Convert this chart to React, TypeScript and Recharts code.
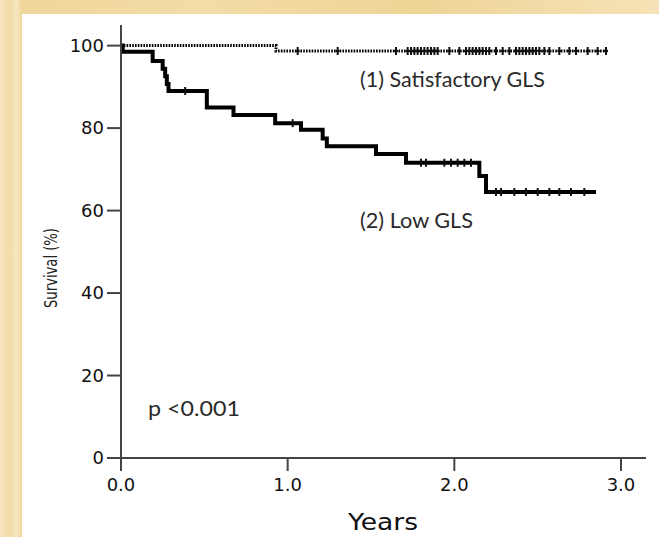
import { ComposedChart, Line, Scatter, XAxis, YAxis } from "recharts"

// Kaplan-Meier steps
const satTimes = [0, 0.93, 2.92]
const satSurvival = [100, 98.7, 98.7]
const satCensored = [
  1.06, 1.3, 1.65, 1.72, 1.74, 1.76, 1.78, 1.8, 1.82, 1.84, 1.86, 1.88, 1.9, 1.97, 2.03, 2.07, 2.09,
  2.11, 2.13, 2.15, 2.17, 2.19, 2.21, 2.25, 2.29, 2.33, 2.37, 2.39, 2.41, 2.43, 2.45, 2.47, 2.49,
  2.51, 2.54, 2.57, 2.63, 2.69, 2.73, 2.8, 2.86, 2.91,
]

const lowTimes = [
  0, 0.01, 0.19, 0.25, 0.265, 0.275, 0.285, 0.515, 0.675, 0.925, 1.08, 1.21, 1.235, 1.53, 1.71,
  2.15, 2.19, 2.85,
]
const lowSurvival = [
  100, 98.5, 96.3, 94.4, 92.6, 90.7, 89.0, 85.0, 83.2, 81.2, 79.6, 77.5, 75.6, 73.7, 71.6, 68.4,
  64.5, 64.5,
]
const lowCensored = [
  0.385, 1.03, 1.8, 1.83, 1.94, 1.98, 2.02, 2.06, 2.1, 2.25, 2.28, 2.36, 2.43, 2.5, 2.57, 2.63, 2.7,
  2.78,
]

const xTicks = [0, 1, 2, 3]
const yTicks = [0, 20, 40, 60, 80, 100]

const toSteps = (times: number[], surv: number[]) => times.map((t, i) => ({ t, s: surv[i] }))

// censored subjects sit on the curve level at their time
const levelAt = (times: number[], surv: number[], t: number) => {
  let v = surv[0]
  times.forEach((tt, i) => {
    if (tt <= t) v = surv[i]
  })
  return v
}

const satData = toSteps(satTimes, satSurvival)
const lowData = toSteps(lowTimes, lowSurvival)
const satMarks = satCensored.map((t) => ({ t, s: levelAt(satTimes, satSurvival, t) }))
const lowMarks = lowCensored.map((t) => ({ t, s: levelAt(lowTimes, lowSurvival, t) }))

const tickFont = { fontFamily: "DejaVu Sans", fontSize: 18, fill: "#111" }

const CensorTick = (props: any) => {
  const { cx, cy, h, w } = props
  if (cx == null || cy == null) return null
  return (
    <path
      d={`M${cx},${cy - h}V${cy + h}M${cx - w},${cy}H${cx + w}`}
      stroke="#111"
      strokeWidth={2}
      fill="none"
    />
  )
}

export default function App() {
  return (
    <div
      style={{
        position: "absolute",
        left: 0,
        top: 0,
        width: 659,
        height: 537,
        background:
          "linear-gradient(90deg, #f6e6bf 0px, #f2dba5 10px, #f7e7c2 16px, #efd69b 22px, #f3dca6 200px, #efd497 420px, #f5e2b6 659px)",
        overflow: "hidden",
      }}
    >
      <div style={{ position: "absolute", left: 22, top: 14, width: 637, height: 523, background: "#fff" }} />
      <div style={{ position: "absolute", left: 0, top: 0 }}>
        <ComposedChart width={659} height={537} margin={{ top: 25, right: 13, left: 0, bottom: 39 }}>
          <XAxis
            dataKey="t"
            type="number"
            domain={[0, 3.15]}
            ticks={xTicks}
            allowDataOverflow
            tickFormatter={(v: number) => v.toFixed(1)}
            height={40}
            tickSize={13}
            tickMargin={7}
            stroke="#444"
            strokeWidth={2}
            tick={tickFont}
          />
          <YAxis
            type="number"
            domain={[0, 105]}
            ticks={yTicks}
            allowDataOverflow
            width={121}
            tickSize={14}
            tickMargin={3}
            stroke="#444"
            strokeWidth={2}
            tick={tickFont}
          />
          <Line
            data={satData}
            dataKey="s"
            type="stepAfter"
            stroke="#000"
            strokeWidth={3}
            strokeDasharray="1.6 1.2"
            dot={false}
            isAnimationActive={false}
          />
          <Line
            data={lowData}
            dataKey="s"
            type="stepAfter"
            stroke="#000"
            strokeWidth={4}
            dot={false}
            isAnimationActive={false}
          />
          <Scatter
            data={satMarks}
            dataKey="s"
            shape={(p: any) => <CensorTick {...p} h={4} w={2} />}
            isAnimationActive={false}
          />
          <Scatter
            data={lowMarks}
            dataKey="s"
            shape={(p: any) => <CensorTick {...p} h={4} w={0} />}
            isAnimationActive={false}
          />
        </ComposedChart>
      </div>
      <svg width={659} height={537} style={{ position: "absolute", left: 0, top: 0, pointerEvents: "none" }}>
        <text x={360} y={87} fontFamily="Lato" fontSize={21} fill="#2a2a2a" textLength={185} lengthAdjust="spacingAndGlyphs">
          (1) Satisfactory GLS
        </text>
        <text x={360} y={228} fontFamily="Lato" fontSize={21} fill="#2a2a2a" textLength={113} lengthAdjust="spacingAndGlyphs">
          (2) Low GLS
        </text>
        <text x={148} y={416} fontFamily="Lato" fontSize={21} fill="#2a2a2a" textLength={92} lengthAdjust="spacingAndGlyphs">
          p &lt;0.001
        </text>
        <text
          x={57}
          y={268}
          fontFamily="DejaVu Sans"
          fontSize={18}
          fill="#222"
          textAnchor="middle"
          textLength={80}
          lengthAdjust="spacingAndGlyphs"
          transform="rotate(-90 57 268)"
        >
          Survival (%)
        </text>
        <text x={383} y={530} fontFamily="DejaVu Sans" fontSize={23} fill="#111" textAnchor="middle" textLength={70} lengthAdjust="spacingAndGlyphs">
          Years
        </text>
      </svg>
    </div>
  )
}
